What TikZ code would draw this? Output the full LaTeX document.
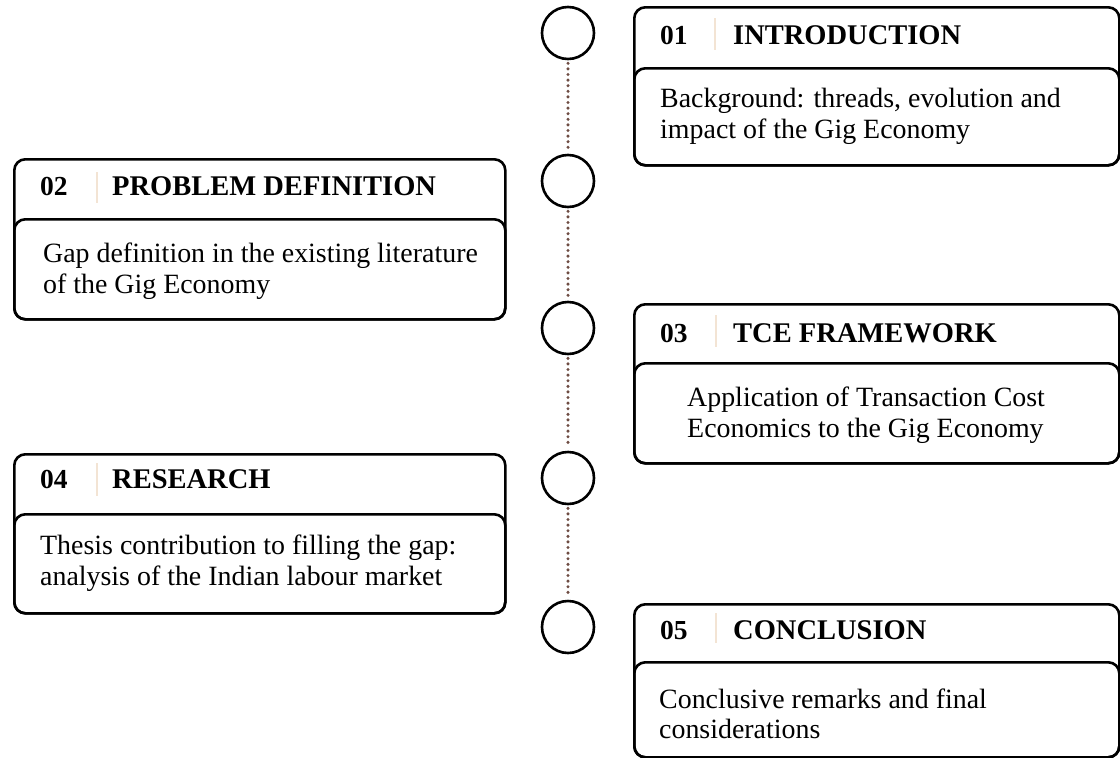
\documentclass[tikz,border=0pt]{standalone}
\usepackage{fontspec}
\setmainfont{Liberation Serif}
\definecolor{dotbrown}{HTML}{6E4C43}
\definecolor{sepbeige}{HTML}{F3E4D4}
\tikzset{
  outerbox/.style={draw=black, line width=2.6pt, rounded corners=11pt, anchor=north west, inner sep=0pt, minimum width=#1},
  innerbox/.style={draw=black, line width=2.6pt, rounded corners=11pt, anchor=north west, inner sep=0pt, minimum width=#1},
  ring/.style={draw=black, circle, line width=2.6pt, minimum size=52pt, inner sep=0pt},
  dotline/.style={draw=dotbrown, line width=3.4pt, line cap=round, dash pattern=on 0pt off 5.6pt, shorten <=3pt, shorten >=3pt},
  sepline/.style={draw=sepbeige, line width=2.4pt},
  numtxt/.style={anchor=base west, inner sep=0pt, font=\fontsize{27.5}{32}\selectfont\bfseries},
  titletxt/.style={anchor=base west, inner sep=0pt, font=\fontsize{28.5}{34}\selectfont\bfseries},
  bodytxt/.style={anchor=base west, inner sep=0pt, font=\fontsize{27.9}{31}\selectfont},
}
\begin{document}
\begin{tikzpicture}[x=1pt, y=-1pt]
\useasboundingbox (0,0) rectangle (1120,758);

% timeline circles
\node[ring] (c1) at (568,33) {};
\node[ring] (c2) at (568,181) {};
\node[ring] (c3) at (568,328) {};
\node[ring] (c4) at (568,478) {};
\node[ring] (c5) at (568,627) {};
\draw[dotline] (c1) -- (c2);
\draw[dotline] (c2) -- (c3);
\draw[dotline] (c3) -- (c4);
\draw[dotline] (c4) -- (c5);

% box 01
\node[outerbox=485pt, minimum height=158pt] (b1) at (633,6) {};
\node[innerbox=485pt, minimum height=97pt] (b1i) at (633,67) {};
\draw[sepline] (715,18) -- (715,50);
\node[numtxt] (n1) at (660,44) {01};
\node[titletxt] (t1) at (733,44) {INTRODUCTION};
\node[bodytxt] (d1a) at (660,107) {Background: threads, evolution and};
\node[bodytxt] (d1b) at (660,138) {impact of the Gig Economy};

% box 02
\node[outerbox=491pt, minimum height=160pt] (b2) at (13,158) {};
\node[innerbox=491pt, minimum height=100pt] (b2i) at (13,218) {};
\draw[sepline] (97,172) -- (97,203);
\node[numtxt] (n2) at (40,195) {02};
\node[titletxt] (t2) at (112,195) {PROBLEM DEFINITION};
\node[bodytxt] (d2a) at (43,262) {Gap definition in the existing literature};
\node[bodytxt] (d2b) at (43,293) {of the Gig Economy};

% box 03
\node[outerbox=485pt, minimum height=159pt] (b3) at (633,303) {};
\node[innerbox=485pt, minimum height=100pt] (b3i) at (633,362) {};
\draw[sepline] (716,315) -- (716,347);
\node[numtxt] (n3) at (660,342) {03};
\node[titletxt] (t3) at (733,342) {TCE FRAMEWORK};
\node[bodytxt] (d3a) at (687,406) {Application of Transaction Cost};
\node[bodytxt] (d3b) at (687,437) {Economics to the Gig Economy};

% box 04
\node[outerbox=491pt, minimum height=159pt] (b4) at (13,453) {};
\node[innerbox=491pt, minimum height=99pt] (b4i) at (13,513) {};
\draw[sepline] (97,463) -- (97,496);
\node[numtxt] (n4) at (40,488) {04};
\node[titletxt] (t4) at (112,488) {RESEARCH};
\node[bodytxt] (d4a) at (40,554) {Thesis contribution to filling the gap:};
\node[bodytxt] (d4b) at (40,585) {analysis of the Indian labour market};

% box 05
\node[outerbox=485pt, minimum height=153pt] (b5) at (633,603) {};
\node[innerbox=485pt, minimum height=95pt] (b5i) at (633,661) {};
\draw[sepline] (716,613) -- (716,643);
\node[numtxt] (n5) at (660,639) {05};
\node[titletxt] (t5) at (733,639) {CONCLUSION};
\node[bodytxt] (d5a) at (659,708) {Conclusive remarks and final};
\node[bodytxt] (d5b) at (659,738) {considerations};
\end{tikzpicture}
\end{document}
